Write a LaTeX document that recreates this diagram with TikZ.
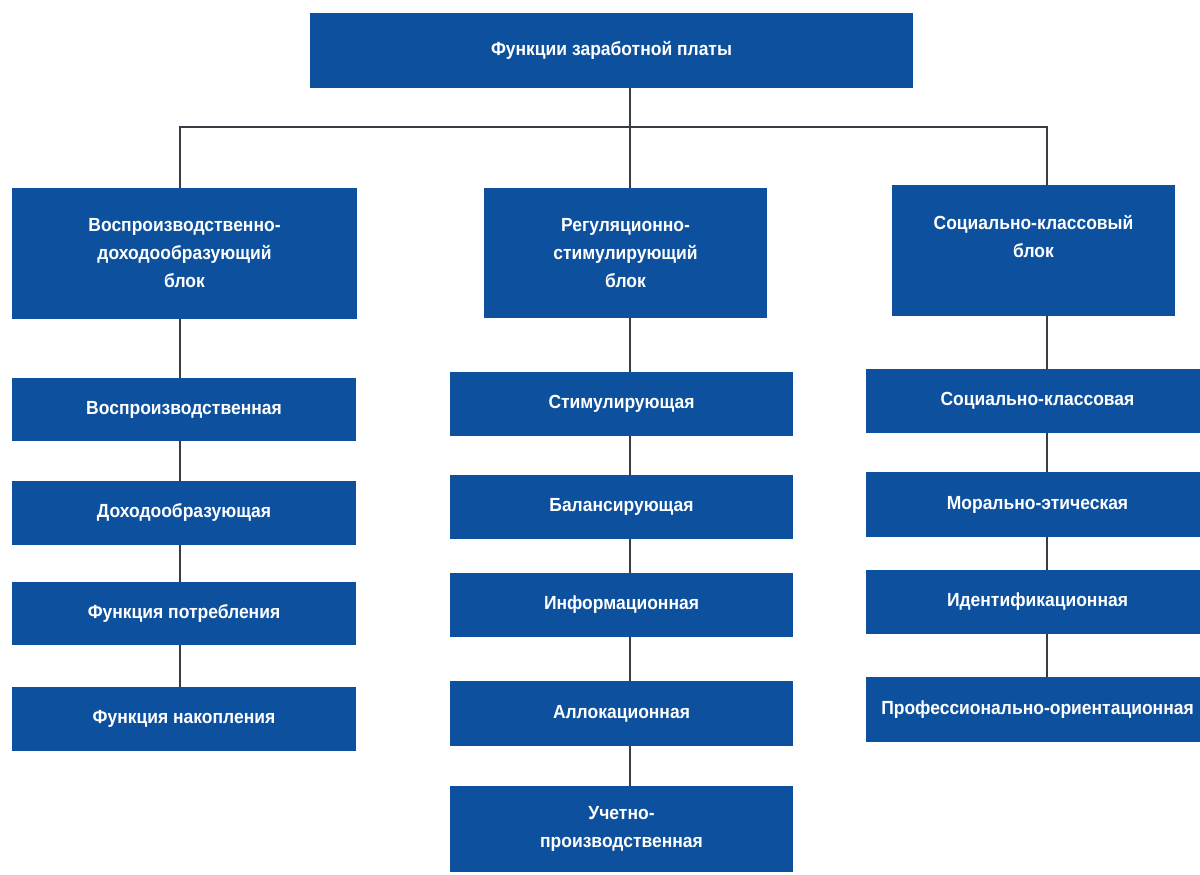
\documentclass[tikz,border=0pt]{standalone}
\usepackage{fontspec}
\setmainfont{Liberation Sans}[BoldFont={* Bold}]
\newfontfamily\boxfont{Liberation Sans Bold}[FakeStretch=0.92]
\definecolor{boxblue}{RGB}{12,80,158}
\definecolor{linegray}{RGB}{55,60,70}
\tikzset{
  fbox/.style={fill=boxblue, draw=none, inner sep=0pt, text=white,
    font=\boxfont\fontsize{19}{28}\selectfont, align=center},
  conn/.style={draw=linegray, line width=1.6pt}
}
\begin{document}
\begin{tikzpicture}[x=1pt,y=-1pt]
\useasboundingbox (0,0) rectangle (1200,875);
\clip (0,0) rectangle (1200,875);
% top
\node[fbox, minimum width=603, minimum height=75] (top) at (611.5,50.5) {Функции заработной платы};
% blocks
\node[fbox, minimum width=345, minimum height=131] (LB) at (184.5,253.5) {Воспроизводственно-\\доходообразующий\\блок};
\node[fbox, minimum width=283, minimum height=130] (MB) at (625.5,253) {Регуляционно-\\стимулирующий\\блок};
\node[fbox, minimum width=283, minimum height=131] (RB) at (1033.5,250.5) {Социально-классовый\\блок\\~};
% left items
\node[fbox, minimum width=344, minimum height=63] (L1) at (184,409.5) {Воспроизводственная};
\node[fbox, minimum width=344, minimum height=64] (L2) at (184,513) {Доходообразующая};
\node[fbox, minimum width=344, minimum height=63] (L3) at (184,613.5) {Функция потребления};
\node[fbox, minimum width=344, minimum height=64] (L4) at (184,719) {Функция накопления};
% middle items
\node[fbox, minimum width=343, minimum height=64] (M1) at (621.5,404) {Стимулирующая};
\node[fbox, minimum width=343, minimum height=64] (M2) at (621.5,507) {Балансирующая};
\node[fbox, minimum width=343, minimum height=64] (M3) at (621.5,605) {Информационная};
\node[fbox, minimum width=343, minimum height=65] (M4) at (621.5,713.5) {Аллокационная};
\node[fbox, minimum width=343, minimum height=86] (M5) at (621.5,829) {Учетно-\\производственная};
% right items
\node[fbox, minimum width=343, minimum height=64] (R1) at (1037.5,401) {Социально-классовая};
\node[fbox, minimum width=343, minimum height=65] (R2) at (1037.5,504.5) {Морально-этическая};
\node[fbox, minimum width=343, minimum height=64] (R3) at (1037.5,602) {Идентификационная};
\node[fbox, minimum width=343, minimum height=65] (R4) at (1037.5,709.5) {Профессионально-ориентационная};
% connector columns
\coordinate (xl) at (180,127);
\coordinate (xm) at (630,127);
\coordinate (xr) at (1047,127);
\draw[conn] (xm |- top.south) -- (xm);
\draw[conn] (xl |- LB.north) -- (xl) -- (xr) -- (xr |- RB.north);
\draw[conn] (xm) -- (xm |- MB.north);
\draw[conn] (xl |- LB.south) -- (xl |- L1.north);
\draw[conn] (xl |- L1.south) -- (xl |- L2.north);
\draw[conn] (xl |- L2.south) -- (xl |- L3.north);
\draw[conn] (xl |- L3.south) -- (xl |- L4.north);
\draw[conn] (xm |- MB.south) -- (xm |- M1.north);
\draw[conn] (xm |- M1.south) -- (xm |- M2.north);
\draw[conn] (xm |- M2.south) -- (xm |- M3.north);
\draw[conn] (xm |- M3.south) -- (xm |- M4.north);
\draw[conn] (xm |- M4.south) -- (xm |- M5.north);
\draw[conn] (xr |- RB.south) -- (xr |- R1.north);
\draw[conn] (xr |- R1.south) -- (xr |- R2.north);
\draw[conn] (xr |- R2.south) -- (xr |- R3.north);
\draw[conn] (xr |- R3.south) -- (xr |- R4.north);
\end{tikzpicture}
\end{document}
